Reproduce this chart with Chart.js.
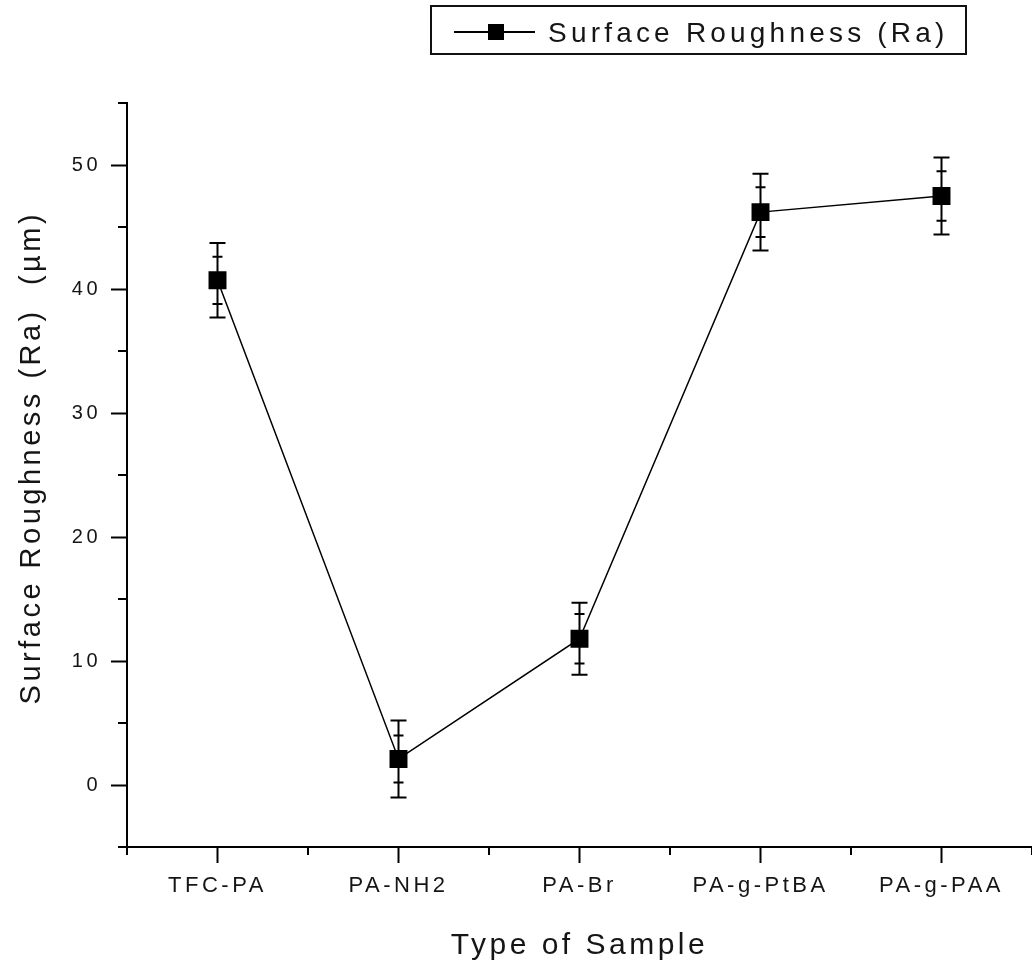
<!DOCTYPE html>
<html>
<head>
<meta charset="utf-8">
<script src="https://cdn.jsdelivr.net/npm/chart.js@4/dist/chart.umd.min.js"></script>
<style>
  body { margin: 0; background: #fff; }
  canvas { display: block; }
</style>
</head>
<body>
<canvas id="chart" width="1032" height="964"></canvas>
<script>
// data
const samples = ['TFC-PA', 'PA-NH2', 'PA-Br', 'PA-g-PtBA', 'PA-g-PAA'];
const roughness = [40.7, 2.1, 11.8, 46.2, 47.5];
const errOuter = [3.0, 3.1, 2.9, 3.1, 3.1];
const errInner = [1.9, 1.9, 2.0, 2.0, 2.0];
const yTicks = [0, 10, 20, 30, 40, 50];
const yMinorTicks = [-5, 5, 15, 25, 35, 45, 55];

const textColor = '#151515';
const fontFamily = '"Liberation Sans", Arial, sans-serif';

// error bars, minor ticks and the boxed legend
const extrasPlugin = {
    id: 'extras',
    beforeDraw(chart) {
        chart.ctx.letterSpacing = '3.5px';
    },
    beforeDatasetsDraw(chart) {
        const ctx = chart.ctx;
        const xScale = chart.scales.x;
        const yScale = chart.scales.y;
        ctx.save();
        ctx.strokeStyle = '#000';
        ctx.lineWidth = 2;
        for (let i = 0; i < roughness.length; i++) {
            const x = xScale.getPixelForValue(i);
            const yTop = yScale.getPixelForValue(roughness[i] + errOuter[i]);
            const yBot = yScale.getPixelForValue(roughness[i] - errOuter[i]);
            const yInTop = yScale.getPixelForValue(roughness[i] + errInner[i]);
            const yInBot = yScale.getPixelForValue(roughness[i] - errInner[i]);
            ctx.beginPath();
            ctx.moveTo(x, yTop);
            ctx.lineTo(x, yBot);
            // outer caps
            ctx.moveTo(x - 8, yTop);
            ctx.lineTo(x + 8, yTop);
            ctx.moveTo(x - 8, yBot);
            ctx.lineTo(x + 8, yBot);
            // inner caps
            ctx.moveTo(x - 5, yInTop);
            ctx.lineTo(x + 5, yInTop);
            ctx.moveTo(x - 5, yInBot);
            ctx.lineTo(x + 5, yInBot);
            ctx.stroke();
        }
        ctx.restore();
    },
    afterDraw(chart) {
        const ctx = chart.ctx;
        const xScale = chart.scales.x;
        const yScale = chart.scales.y;
        const area = chart.chartArea;
        ctx.save();
        ctx.strokeStyle = '#000';
        ctx.lineWidth = 2;
        ctx.beginPath();
        for (const v of yMinorTicks) {
            const y = yScale.getPixelForValue(v);
            ctx.moveTo(area.left - 9, y);
            ctx.lineTo(area.left, y);
        }
        // minor ticks halfway between the categories
        const step = xScale.getPixelForValue(1) - xScale.getPixelForValue(0);
        for (let i = 0; i <= samples.length; i++) {
            const x = xScale.getPixelForValue(i) - step / 2;
            ctx.moveTo(x, area.bottom);
            ctx.lineTo(x, area.bottom + 8);
        }
        ctx.stroke();

        // legend box
        ctx.lineWidth = 2;
        ctx.strokeStyle = '#111';
        ctx.strokeRect(431, 6, 535, 48);
        ctx.beginPath();
        ctx.lineWidth = 2;
        ctx.strokeStyle = '#000';
        ctx.moveTo(454, 32);
        ctx.lineTo(535, 32);
        ctx.stroke();
        ctx.fillStyle = '#000';
        ctx.fillRect(488, 24, 16, 16);
        ctx.fillStyle = textColor;
        ctx.font = '28px ' + fontFamily;
        ctx.letterSpacing = '4.2px';
        ctx.textBaseline = 'alphabetic';
        ctx.textAlign = 'left';
        ctx.fillText(chart.data.datasets[0].label, 548, 42);
        ctx.restore();
    }
};

new Chart(document.getElementById('chart'), {
    type: 'line',
    data: {
        labels: samples,
        datasets: [{
            label: 'Surface Roughness (Ra)',
            data: roughness,
            borderColor: '#000',
            borderWidth: 1.5,
            backgroundColor: '#000',
            pointStyle: 'rect',
            pointRadius: 12.7,
            pointHoverRadius: 12.7,
            pointBorderWidth: 0,
            pointBackgroundColor: '#000',
            tension: 0,
            fill: false
        }]
    },
    options: {
        responsive: false,
        animation: false,
        events: [],
        layout: {
            autoPadding: false,
            padding: { top: 103, right: -5, left: 0, bottom: 0 }
        },
        plugins: {
            legend: { display: false },
            tooltip: { enabled: false }
        },
        scales: {
            x: {
                type: 'category',
                offset: true,
                afterFit(scale) {
                    scale.height = 117;
                    scale.paddingLeft = 0;
                    scale.paddingRight = 0;
                },
                grid: {
                    display: true,
                    drawOnChartArea: false,
                    tickLength: 16,
                    tickWidth: 2,
                    tickColor: '#000'
                },
                border: { display: true, color: '#000', width: 2 },
                ticks: {
                    color: textColor,
                    padding: 10,
                    maxRotation: 0,
                    autoSkip: false,
                    font: { family: fontFamily, size: 22 }
                },
                title: {
                    display: true,
                    text: 'Type of Sample',
                    color: textColor,
                    padding: { top: 5, bottom: 0 },
                    font: { family: fontFamily, size: 30 }
                }
            },
            y: {
                min: -5,
                max: 55,
                afterFit(scale) {
                    scale.width = 127;
                    scale.paddingTop = 0;
                    scale.paddingBottom = 0;
                },
                afterBuildTicks(scale) {
                    scale.ticks = yTicks.map(v => ({ value: v }));
                },
                grid: {
                    display: true,
                    drawOnChartArea: false,
                    tickLength: 16,
                    tickWidth: 2,
                    tickColor: '#000'
                },
                border: { display: true, color: '#000', width: 2 },
                ticks: {
                    color: textColor,
                    padding: 10,
                    font: { family: fontFamily, size: 20 }
                },
                title: {
                    display: true,
                    text: '\u00a0\u00a0\u00a0Surface Roughness (Ra)  (\u00b5m)',
                    color: textColor,
                    padding: { top: 15, bottom: 0 },
                    font: { family: fontFamily, size: 29 }
                }
            }
        }
    },
    plugins: [extrasPlugin]
});
</script>
</body>
</html>
